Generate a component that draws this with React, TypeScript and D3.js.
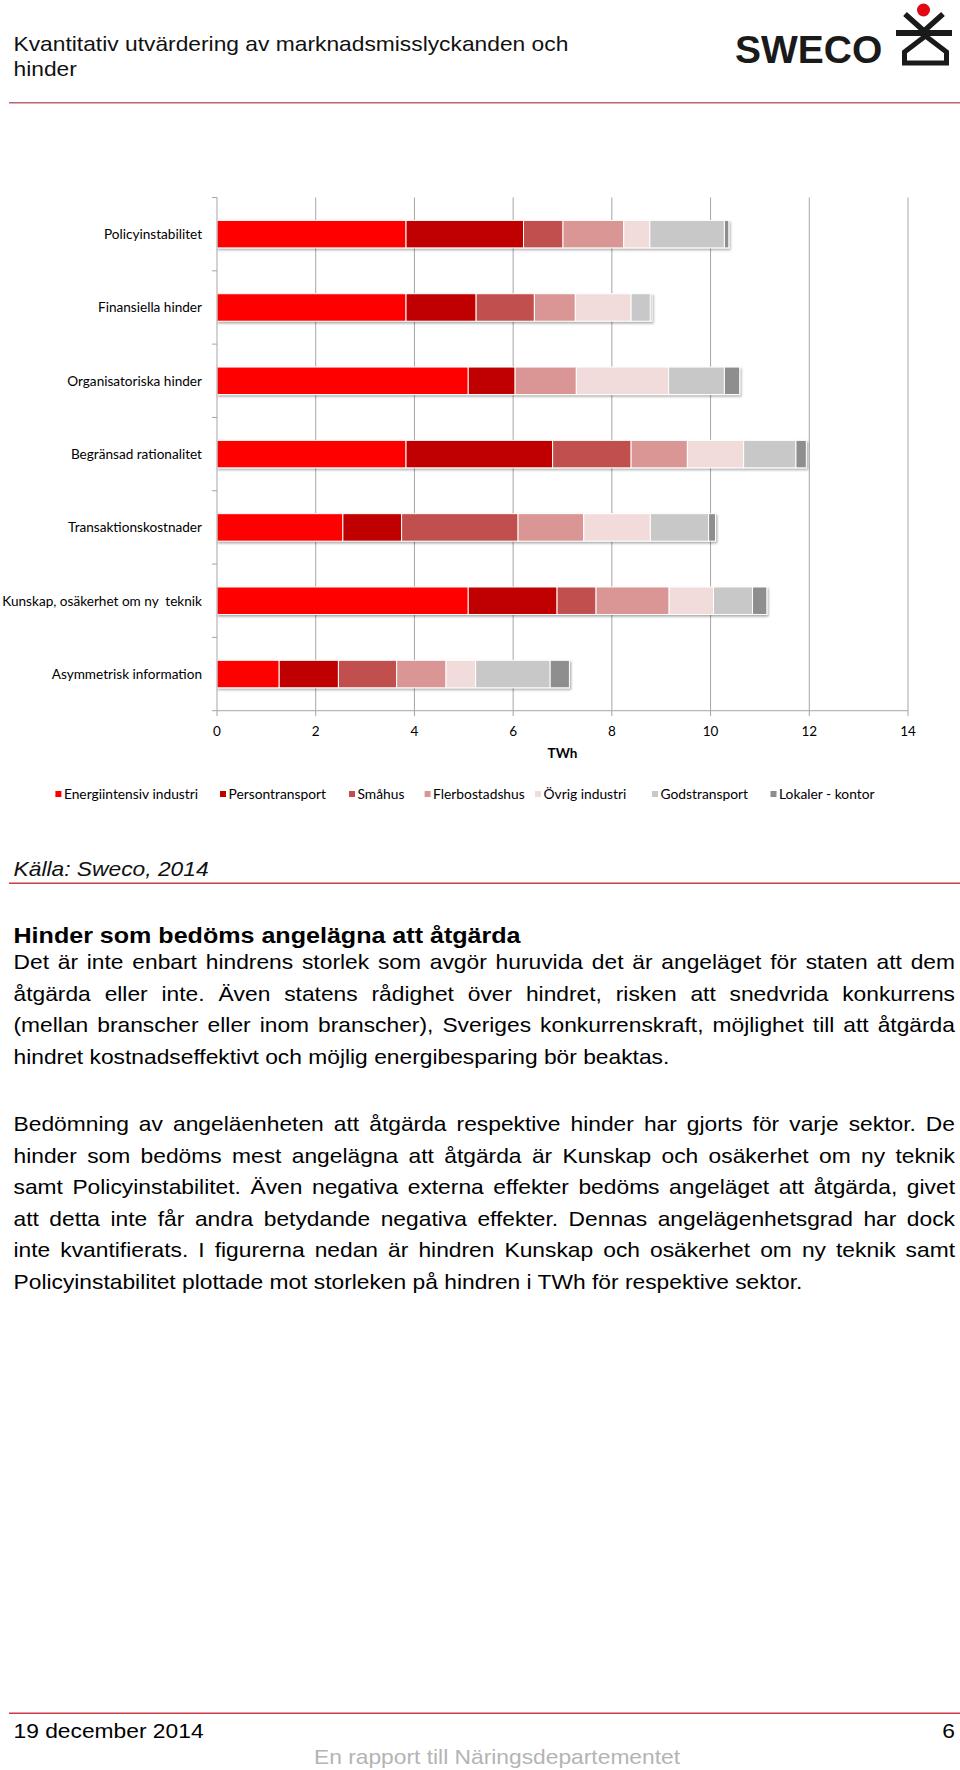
import React, { useMemo } from 'react';
import * as d3 from 'd3';

// ---------- DATA ----------
const categories = [
  'Policyinstabilitet',
  'Finansiella hinder',
  'Organisatoriska hinder',
  'Begränsad rationalitet',
  'Transaktionskostnader',
  'Kunskap, osäkerhet om ny  teknik',
  'Asymmetrisk information',
];
const seriesNames = [
  'Energiintensiv industri',
  'Persontransport',
  'Småhus',
  'Flerbostadshus',
  'Övrig industri',
  'Godstransport',
  'Lokaler - kontor',
];
const energiintensivIndustri = [3.83, 3.83, 5.09, 3.83, 2.55, 5.09, 1.26];
const persontransport = [2.38, 1.42, 0.95, 2.97, 1.19, 1.8, 1.2];
const smahus = [0.8, 1.18, 0, 1.59, 2.36, 0.79, 1.18];
const flerbostadshus = [1.23, 0.83, 1.24, 1.14, 1.33, 1.48, 1.0];
const ovrigIndustri = [0.53, 1.13, 1.87, 1.14, 1.35, 0.9, 0.6];
const godstransport = [1.51, 0.39, 1.13, 1.06, 1.18, 0.79, 1.51];
const lokalerKontor = [0.09, 0.03, 0.31, 0.21, 0.14, 0.29, 0.39];
const seriesValues = [
  energiintensivIndustri,
  persontransport,
  smahus,
  flerbostadshus,
  ovrigIndustri,
  godstransport,
  lokalerKontor,
];
const seriesColors = ['#FF0000', '#C00000', '#C0504D', '#D99694', '#F2DCDB', '#C8C8C8', '#8E8E8E'];
const xTicks = [0, 2, 4, 6, 8, 10, 12, 14];
const xDomain = [0, 14];
const axisTitle = 'TWh';

const titleLines = ['Kvantitativ utvärdering av marknadsmisslyckanden och', 'hinder'];
const sourceText = 'Källa: Sweco, 2014';
const headingText = 'Hinder som bedöms angelägna att åtgärda';
const paragraph1 = [
  'Det är inte enbart hindrens storlek som avgör huruvida det är angeläget för staten att dem',
  'åtgärda eller inte. Även statens rådighet över hindret, risken att snedvrida konkurrens',
  '(mellan branscher eller inom branscher), Sveriges konkurrenskraft, möjlighet till att åtgärda',
  'hindret kostnadseffektivt och möjlig energibesparing bör beaktas.',
];
const paragraph2 = [
  'Bedömning av angeläenheten att åtgärda respektive hinder har gjorts för varje sektor. De',
  'hinder som bedöms mest angelägna att åtgärda är Kunskap och osäkerhet om ny teknik',
  'samt Policyinstabilitet. Även negativa externa effekter bedöms angeläget att åtgärda, givet',
  'att detta inte får andra betydande negativa effekter. Dennas angelägenhetsgrad har dock',
  'inte kvantifierats. I figurerna nedan är hindren Kunskap och osäkerhet om ny teknik samt',
  'Policyinstabilitet plottade mot storleken på hindren i TWh för respektive sektor.',
];
const footerDate = '19 december 2014';
const footerPage = '6';
const footerNote = 'En rapport till Näringsdepartementet';

// ---------- LAYOUT ----------
const W = 960;
const H = 1770;
const SX = 1.14; // horizontal stretch of document text
const LEFT = 13.5;
const RIGHT = 955;
const docFont = "'Liberation Sans', Arial, sans-serif";
const chartFont = "Lato, 'Open Sans', sans-serif";
const legendX = [55.4, 220, 349, 424.6, 535, 652, 770.5];

let _ctx: CanvasRenderingContext2D | null = null;
function measure(text: string, font: string) {
  if (!_ctx) _ctx = document.createElement('canvas').getContext('2d');
  _ctx!.font = font;
  return _ctx!.measureText(text).width;
}

function JustifiedLine({ text, y, justify, size }: { text: string; y: number; justify: boolean; size: number }) {
  const avail = (RIGHT - LEFT) / SX;
  const font = `${size}px 'Liberation Sans'`;
  if (!justify) {
    return (
      <text x={0} y={y} fontSize={size}>
        {text}
      </text>
    );
  }
  const words = text.split(' ');
  const widths = words.map((w) => measure(w, font));
  const total = widths.reduce((a, b) => a + b, 0);
  const gap = Math.max(2, (avail - total) / (words.length - 1));
  let cx = 0;
  const xs = widths.map((w) => {
    const x0 = cx;
    cx += w + gap;
    return x0;
  });
  return (
    <text y={y} fontSize={size}>
      {words.map((w, i) => (
        <tspan key={i} x={xs[i]}>
          {w}
        </tspan>
      ))}
    </text>
  );
}

export default function App() {
  const x = d3.scaleLinear().domain(xDomain).range([217, 908]);
  const y = d3
    .scaleBand<string>()
    .domain(categories)
    .range([197.5, 710.7])
    .paddingInner(0.625)
    .paddingOuter(0.3125);

  const stacked = useMemo(() => {
    const rows = categories.map((c, i) => {
      const r: any = { cat: c };
      seriesNames.forEach((s, j) => (r[s] = seriesValues[j][i]));
      return r;
    });
    return d3.stack().keys(seriesNames)(rows);
  }, []);

  const plotTop = 197.5;
  const plotBottom = 710.7;
  const step = y.step();
  const bandEdges = d3.range(categories.length + 1).map((i) => plotTop + i * step);

  const docLine = (lines: string[], start: number) =>
    lines.map((l, i) => (
      <JustifiedLine key={i} text={l} y={start + i * 31.6} justify={i < lines.length - 1} size={20} />
    ));

  return (
    <svg
      width={W}
      height={H}
      viewBox={`0 0 ${W} ${H}`}
      style={{ position: 'absolute', left: 0, top: 0, background: '#fff' }}
    >
      <defs>
        <filter id="barShadow" x="-5%" y="-30%" width="110%" height="170%">
          <feDropShadow dx="1.2" dy="1.6" stdDeviation="0.9" floodColor="#000" floodOpacity="0.35" />
        </filter>
      </defs>
      <rect x={0} y={0} width={W} height={H} fill="#fff" />

      {/* Header */}
      <g transform={`translate(${LEFT},0) scale(${SX},1)`} fontFamily={docFont} fill="#111">
        {titleLines.map((t, i) => (
          <text key={i} x={0} y={51.5 + i * 24.5} fontSize={20}>
            {t}
          </text>
        ))}
      </g>
      <text x={735} y={63} fontFamily={docFont} fontWeight="bold" fontSize={39} fill="#1a1a1a">
        SWECO
      </text>
      <g stroke="#1a1a1a" strokeWidth={5.5} fill="none" strokeLinejoin="miter">
        <path d="M905,14 L924,31 L943,14" />
        <path d="M904.5,63 V52 L925.5,36 L946.5,52 V63 Z" strokeWidth={5} />
      </g>
      <rect x={896} y={30} width={56} height={6} fill="#1a1a1a" />
      <circle cx={923.5} cy={10} r={6.5} fill="#E30613" />
      <line x1={9} x2={960} y1={102.7} y2={102.7} stroke="#BC6670" strokeWidth={1.5} />

      {/* Chart */}
      <g>
        {xTicks
          .filter((t) => t > 0)
          .map((t) => (
            <line key={t} x1={x(t)} x2={x(t)} y1={plotTop} y2={plotBottom} stroke="#A6A6A6" strokeWidth={1} />
          ))}
        {categories.map((c, ci) => (
          <g key={c} filter="url(#barShadow)">
            {stacked.map((layer, si) => {
              const d = layer[ci];
              const w = x(d[1]) - x(d[0]);
              if (w <= 0) return null;
              return (
                <rect
                  key={si}
                  x={x(d[0])}
                  y={y(c)!}
                  width={w}
                  height={y.bandwidth()}
                  fill={seriesColors[si]}
                  stroke="#fff"
                  strokeWidth={1}
                />
              );
            })}
          </g>
        ))}
        {/* axes */}
        <line x1={217} x2={217} y1={plotTop} y2={plotBottom} stroke="#A6A6A6" strokeWidth={1} />
        {bandEdges.map((e, i) => (
          <line key={i} x1={212} x2={217} y1={e} y2={e} stroke="#A6A6A6" strokeWidth={1} />
        ))}
        <line x1={x(xDomain[0])} x2={x(xDomain[1])} y1={plotBottom} y2={plotBottom} stroke="#A6A6A6" strokeWidth={1} />
        {xTicks.map((t) => (
          <line key={t} x1={x(t)} x2={x(t)} y1={plotBottom} y2={plotBottom + 5.5} stroke="#A6A6A6" strokeWidth={1} />
        ))}
        <g fontFamily={chartFont} fontSize={13.5} fill="#000">
          {xTicks.map((t) => (
            <text key={t} x={x(t)} y={735.5} textAnchor="middle">
              {t}
            </text>
          ))}
          <text x={(x(xDomain[0]) + x(xDomain[1])) / 2} y={757.5} textAnchor="middle" fontWeight="bold">
            {axisTitle}
          </text>
          {categories.map((c) => (
            <text
              key={c}
              x={202}
              y={y(c)! + y.bandwidth() / 2 + 4.9}
              textAnchor="end"
              fontSize={13.6}
              style={{ whiteSpace: 'pre' }}
            >
              {c}
            </text>
          ))}
        </g>
        {/* legend */}
        <g fontFamily={chartFont} fontSize={13.8} fill="#000">
          {seriesNames.map((s, i) => (
            <g key={s}>
              <rect x={legendX[i]} y={791} width={6} height={6} fill={seriesColors[i]} />
              <text x={legendX[i] + 8.5} y={799}>
                {s}
              </text>
            </g>
          ))}
        </g>
      </g>

      {/* Source */}
      <g transform={`translate(${LEFT},0) scale(${SX},1)`} fontFamily={docFont} fill="#111">
        <text x={0} y={876} fontSize={20} fontStyle="italic">
          {sourceText}
        </text>
      </g>
      <line x1={9} x2={960} y1={883.3} y2={883.3} stroke="#CC3A48" strokeWidth={1.5} />

      {/* Body */}
      <g transform={`translate(${LEFT},0) scale(${SX},1)`} fontFamily={docFont} fill="#000">
        <text x={0} y={943} fontSize={22} fontWeight="bold">
          {headingText}
        </text>
        {docLine(paragraph1, 969)}
        {docLine(paragraph2, 1131)}
      </g>

      {/* Footer */}
      <line x1={9} x2={960} y1={1713.3} y2={1713.3} stroke="#CC3A48" strokeWidth={1.5} />
      <g transform={`translate(${LEFT},0) scale(${SX},1)`} fontFamily={docFont} fill="#000">
        <text x={0} y={1738} fontSize={20}>
          {footerDate}
        </text>
        <text x={(RIGHT - LEFT) / SX} y={1738} fontSize={20} textAnchor="end">
          {footerPage}
        </text>
        <text x={(497 - LEFT) / SX} y={1764.5} fontSize={20} textAnchor="middle" fill="#B4B4B4">
          {footerNote}
        </text>
      </g>
    </svg>
  );
}
